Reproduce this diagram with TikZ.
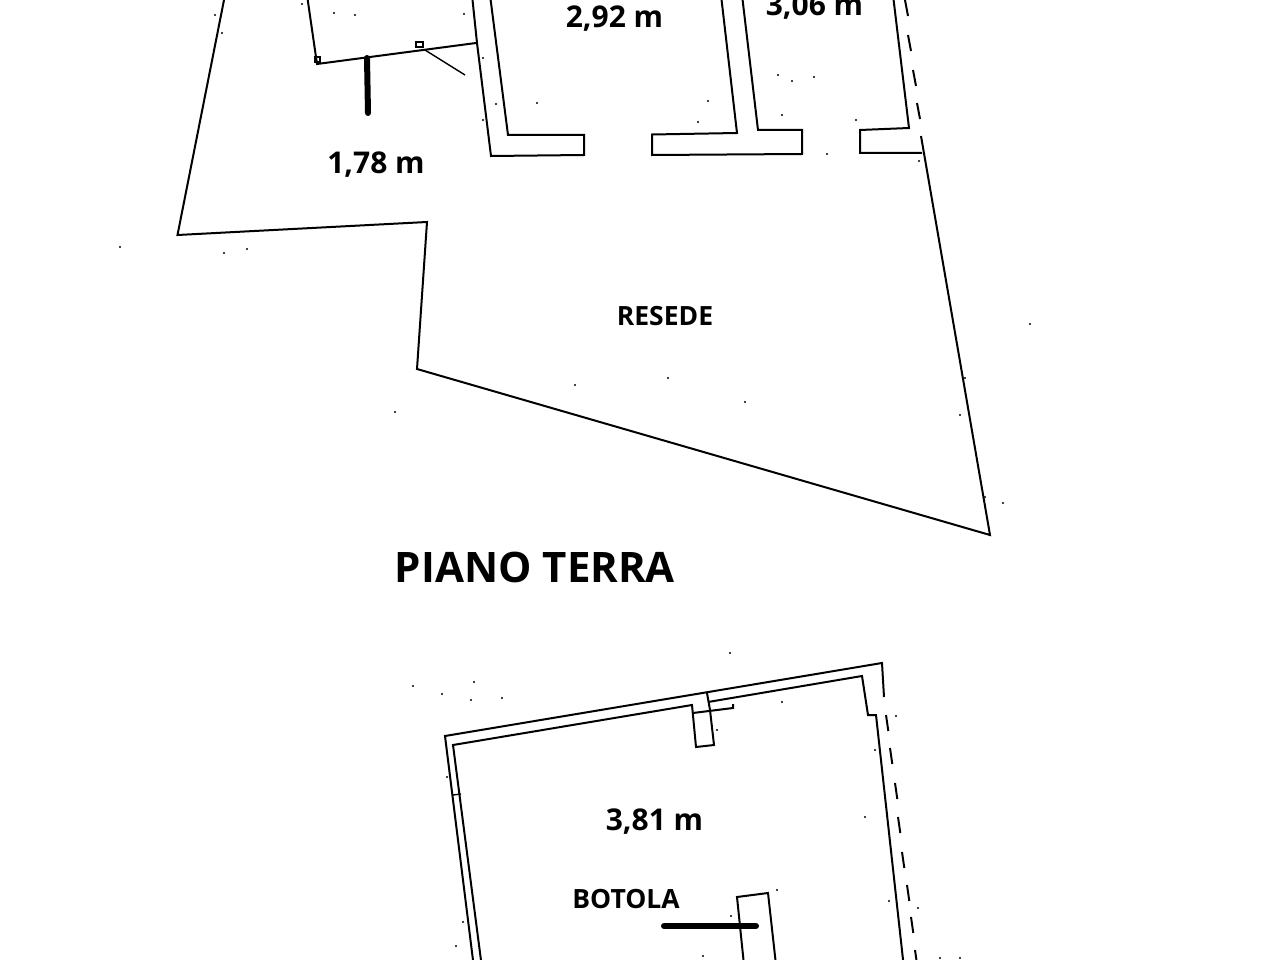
\documentclass[tikz,border=0pt]{standalone}
\usepackage{fontspec}
\setmainfont{Open Sans}
\tikzset{
  wall/.style={line width=2pt,line join=miter,black},
  thin wall/.style={line width=1.4pt,black},
  bar/.style={line width=6pt,line cap=round,black},
  dim/.style={font=\fontsize{30}{30}\selectfont\bfseries,inner sep=0pt,anchor=center},
  tag/.style={font=\fontsize{26.5}{26.5}\selectfont\bfseries,inner sep=0pt,anchor=center},
  title/.style={font=\fontsize{42}{42}\selectfont\bfseries,inner sep=0pt,anchor=center},
}
\begin{document}
\begin{tikzpicture}[x=1pt,y=-1pt]
\useasboundingbox (0,0) rectangle (1280,960);
\clip (0,0) rectangle (1280,960);
\fill[white] (0,0) rectangle (1280,960);
% --- ground floor
\draw[wall] (225,-5) -- (177.5,235) -- (427,222) -- (417,369) -- (990,535) -- (921,136);
\draw[wall] (307,-5) -- (317,64) -- (476,43);
\draw[wall] (472,-5) -- (477,43) -- (491,156) -- (584,155) -- (584,135) -- (508,135) -- (490,-5);
\draw[wall] (721,-5) -- (737,133) -- (652,134.5) -- (652,155) -- (802,154) -- (802,130) -- (758,130) -- (742,-5);
\draw[wall] (922,153) -- (860,153) -- (860,130) -- (909,128) -- (893,-5);
\foreach \a/\b in {905/0,908/35,913/70,917/103}
  \draw[wall] (\a,\b) -- ++(3,16);
\draw[thin wall] (425,50) -- (465,75);
\draw[thin wall] (315,57) rectangle (320,62);
\draw[thin wall] (416,42) rectangle (423,47);
\draw[bar] (367,58) -- (368,113);
% --- first floor
\draw[wall] (473.6,965) -- (445,736) -- (882,663) -- (884,697);
\draw[wall] (481.6,965) -- (453,745) -- (692,705) -- (696,747) -- (714,745) -- (710,710) -- (707,693);
\draw[wall] (708,702) -- (862,676) -- (868,715) -- (876,715) -- (903.6,965);
\draw[wall] (693,713) -- (733,708) -- (733,704);
\draw[thin wall] (453,795) -- (461,794);
\foreach \a/\b in {886/715,890/748,895/783,898/817,902/852,907/885,911/917,915/950}
  \draw[wall] (\a,\b) -- ++(2.3,16);
\draw[wall] (744,965) -- (737,897) -- (768,893) -- (776,965);
\draw[bar] (664,926) -- (756,926);
% --- specks
\foreach \a/\b in {334/13,355/15,464/14,302/4,215/15,222/33,537/103,496/104,483/58,483/120,224/253,247/249,120/247,778/75,792/81,814/77,708/101,698/122,782/115,856/120,827/154,919/161,1030/324,965/378,575/385,668/378,745/402,395/412,985/497,1003/503,960/415,474/682,442/694,471/700,502/698,413/686,717/730,447/777,463/922,456/946,703/956,782/702,865/817,896/716,875/750,777/890,731/916,889/901,918/908,730/653,960/958,940/958}
  \fill (\a,\b) circle (1.2);
% --- labels
\node[dim] (d292) at (614.5,19) {2,92 m};
\node[dim] (d306) at (814.5,7) {3,06 m};
\node[dim] (d178) at (376,165) {1,78 m};
\node[tag] (resede) at (665,316) {RESEDE};
\node[title] (piano) at (535,567) {PIANO TERRA};
\node[dim] (d381) at (654.5,822) {3,81 m};
\node[tag] (botola) at (626,899) {BOTOLA};
\end{tikzpicture}
\end{document}
